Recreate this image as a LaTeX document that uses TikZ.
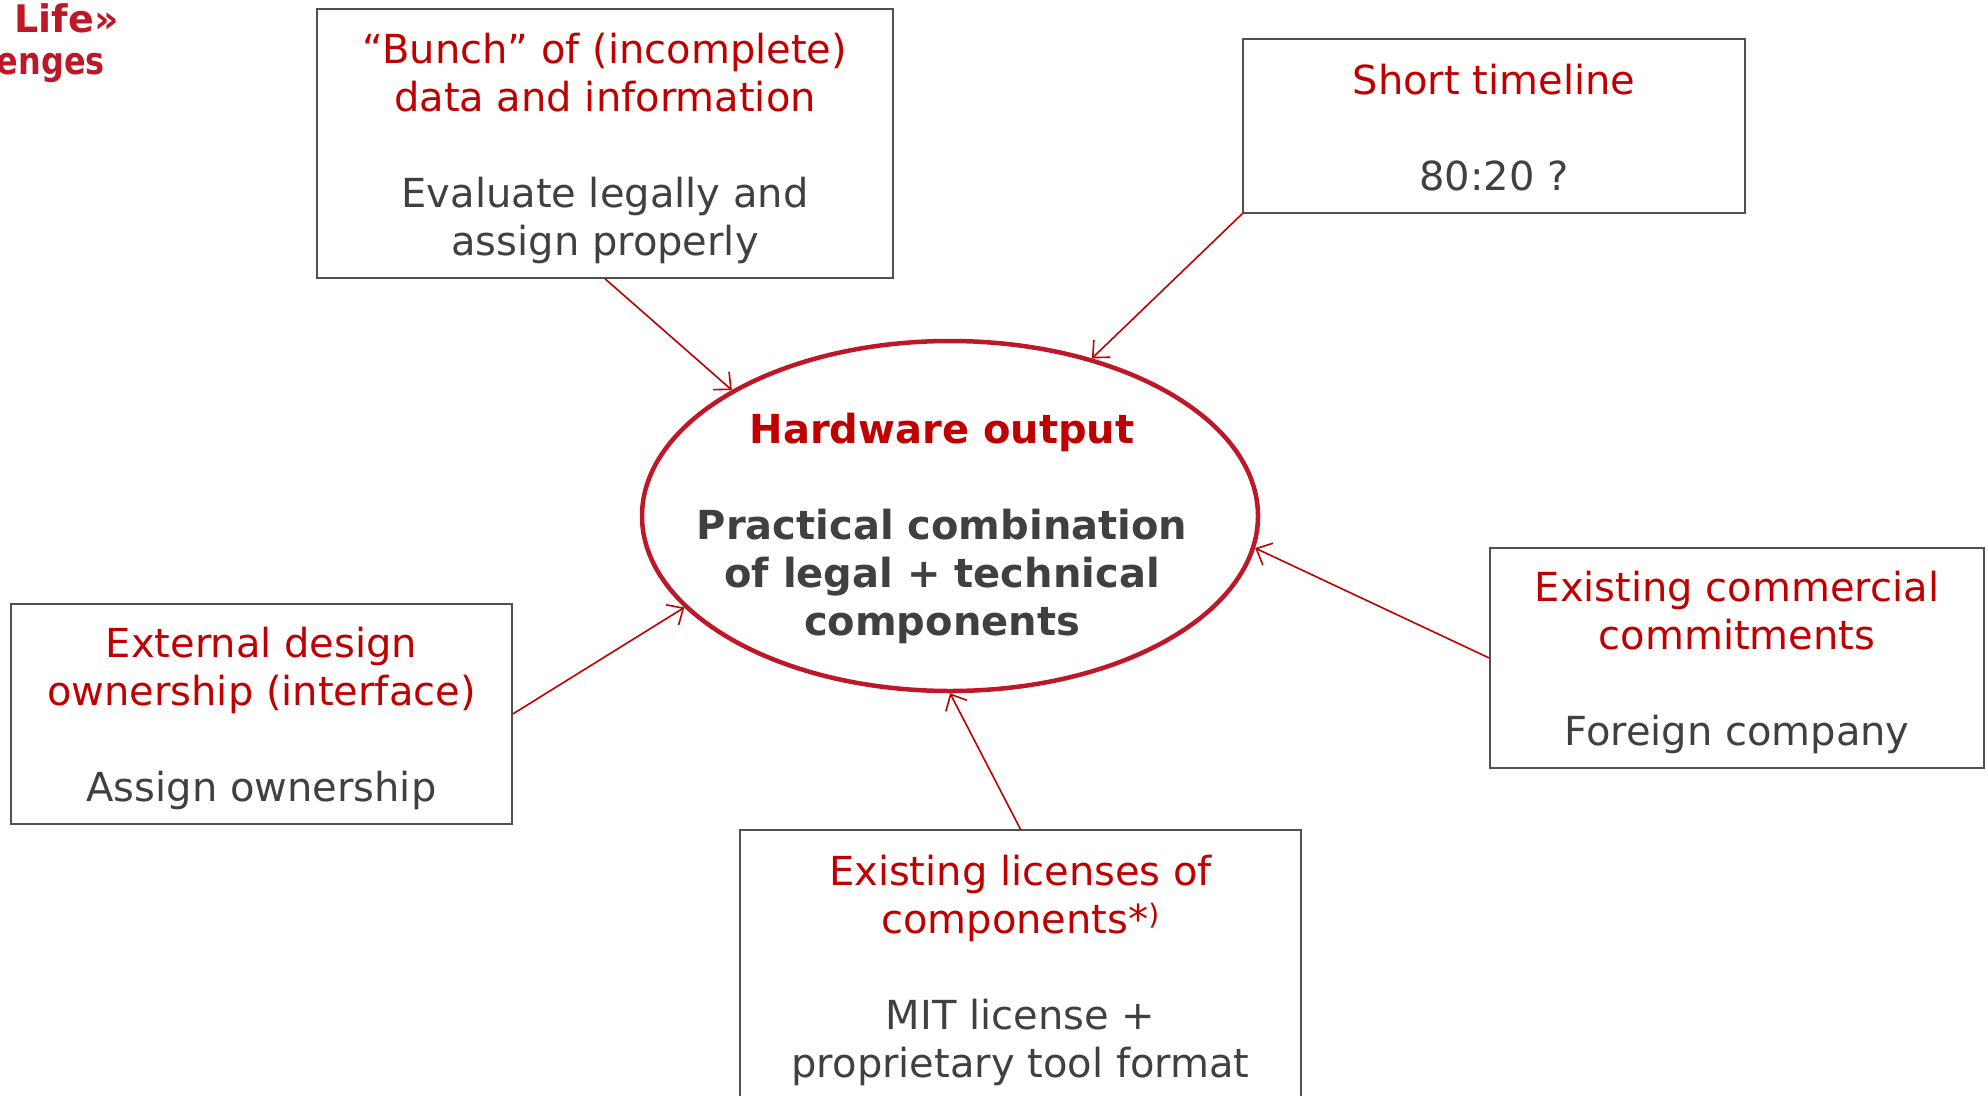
\documentclass[tikz,border=0pt]{standalone}
\usepackage{fontspec}
\setmainfont{DejaVu Sans}
\usetikzlibrary{shapes.geometric,arrows.meta}
\definecolor{hred}{RGB}{192,0,0}
\definecolor{ered}{RGB}{190,24,40}
\definecolor{tgray}{RGB}{64,64,64}
\definecolor{bgray}{RGB}{80,80,80}
\newcommand\topstrut{\rule{0pt}{40pt}}
\begin{document}
\begin{tikzpicture}[x=1pt,y=-1pt,
  box/.style={draw=bgray, line width=1.5pt, inner sep=0pt, align=center, text=tgray,
    font=\fontsize{40}{48}\selectfont},
  conn/.style={draw=hred, line width=1.6pt,
    -{Straight Barb[length=13pt,width=24pt,line width=1.6pt]}},
  corner/.style={text=ered, inner sep=0pt, font=\bfseries\fontsize{38}{44}\selectfont}]
\useasboundingbox (0,0) rectangle (1988,1095);
\clip (0,0) rectangle (1988,1095);

% partial title, top left
\node[corner, anchor=base east] (t1) at (119,32) {Life»};
\node[corner, anchor=base east, xscale=0.84] (t2) at (105,74) {enges};

% central ellipse
\node[ellipse, draw=ered, line width=4.5pt, minimum width=616pt, minimum height=350pt, inner sep=0pt] (ell) at (950,516) {};
\node[align=center, text=tgray, inner sep=0pt, font=\bfseries\fontsize{40}{48}\selectfont] (hw) at (942,528)
  {\textcolor{hred}{Hardware output}\\[48pt]Practical combination\\of legal + technical\\components};

% boxes
\node[box, minimum width=576pt, minimum height=269pt] (bunch) at (605,143.5)
  {\topstrut\textcolor{hred}{“Bunch” of (incomplete)}\\\textcolor{hred}{data and information}\\[48pt]Evaluate legally and\\assign properly};
\node[box, minimum width=502pt, minimum height=174pt] (tl) at (1494,126)
  {\rule{0pt}{33pt}\textcolor{hred}{Short timeline}\\[48pt]80:20 ?};
\node[box, minimum width=501pt, minimum height=220pt] (ext) at (261.5,714)
  {\topstrut\textcolor{hred}{External design}\\\textcolor{hred}{ownership (interface)}\\[48pt]Assign ownership};
\node[box, minimum width=494pt, minimum height=220pt] (com) at (1737,658)
  {\topstrut\textcolor{hred}{Existing commercial}\\\textcolor{hred}{commitments}\\[48pt]Foreign company};
\node[box, minimum width=561pt, minimum height=281pt] (lic) at (1020.5,970.5)
  {\textcolor{hred}{Existing licenses of}\\\textcolor{hred}{components*\textsuperscript{)}}\\[48pt]MIT license +\\proprietary tool format};

% connectors
\draw[conn] (bunch.south) -- (ell.150.4);
\draw[conn] (tl.south west) -- (ell.48.8);
\draw[conn] (ext.east) -- (ell.-161.9);
\draw[conn] (com.west) -- (ell.-6.1);
\draw[conn] (lic.north) -- (ell.-90);
\end{tikzpicture}
\end{document}
